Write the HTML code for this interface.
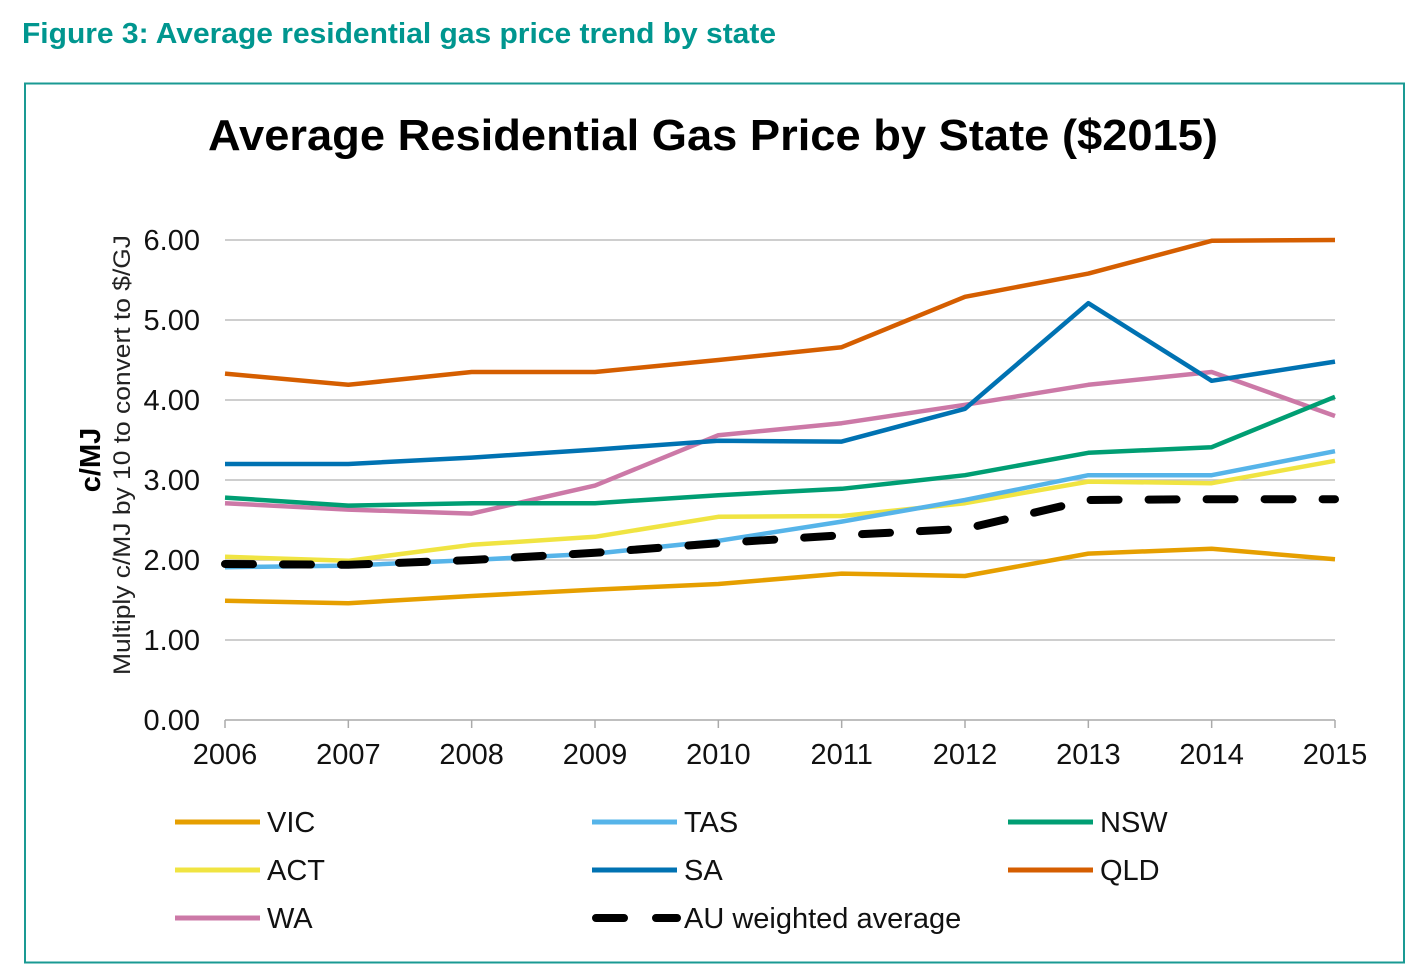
<!DOCTYPE html>
<html><head><meta charset="utf-8"><style>
body{margin:0;background:#fff;width:1416px;height:972px;overflow:hidden;font-family:"Liberation Sans",sans-serif}
</style></head><body>
<svg width="1416" height="972" xmlns="http://www.w3.org/2000/svg" font-family="Liberation Sans, sans-serif">
<text x="22" y="43" font-size="29" font-weight="bold" fill="#00968f" textLength="754" lengthAdjust="spacingAndGlyphs">Figure 3: Average residential gas price trend by state</text>
<rect x="25" y="83.5" width="1379" height="879" fill="none" stroke="#1a9a93" stroke-width="2"/>
<text x="208" y="150" font-size="44" font-weight="bold" fill="#000" textLength="1010" lengthAdjust="spacingAndGlyphs">Average Residential Gas Price by State ($2015)</text>
<text transform="translate(100,460) rotate(-90)" font-size="29" font-weight="bold" text-anchor="middle">c/MJ</text>
<text transform="translate(130,675) rotate(-90)" font-size="24" fill="#222" textLength="440" lengthAdjust="spacingAndGlyphs">Multiply c/MJ by 10 to convert to $/GJ</text>
<g id="grid"></g><g id="axes"></g><g id="series"></g><g id="legend"></g>
</svg>
<script>
const years=[2006,2007,2008,2009,2010,2011,2012,2013,2014,2015];
const yTicks=[0,1,2,3,4,5,6];
const VIC=[1.49,1.46,1.55,1.63,1.70,1.83,1.80,2.08,2.14,2.01];
const TAS=[1.91,1.93,2.00,2.08,2.24,2.48,2.75,3.06,3.06,3.36];
const NSW=[2.78,2.68,2.71,2.71,2.81,2.89,3.06,3.34,3.41,4.04];
const ACT=[2.04,1.99,2.19,2.29,2.54,2.55,2.71,2.98,2.96,3.24];
const SA=[3.20,3.20,3.28,3.38,3.49,3.48,3.89,5.21,4.24,4.48];
const QLD=[4.33,4.19,4.35,4.35,4.50,4.66,5.29,5.58,5.99,6.00];
const WA=[2.71,2.63,2.58,2.93,3.56,3.71,3.94,4.19,4.35,3.80];
const AU=[1.95,1.94,2.00,2.09,2.21,2.31,2.39,2.75,2.76,2.76];
const NS="http://www.w3.org/2000/svg";
const xS=i=>225+i*(1335-225)/(years.length-1);
const yS=v=>720-v*80;
function mk(t,a,p){const e=document.createElementNS(NS,t);for(const k in a)e.setAttribute(k,a[k]);p.appendChild(e);return e;}
const grid=document.getElementById('grid'),axes=document.getElementById('axes'),ser=document.getElementById('series'),leg=document.getElementById('legend');
yTicks.forEach(v=>{
 if(v>0){const l=mk('line',{x1:225,x2:1335,y1:yS(v),y2:yS(v),stroke:'#bdbdbd','stroke-width':1.5},grid);
 
 }
 const t=mk('text',{x:200,y:yS(v)+10,'font-size':29,'text-anchor':'end',fill:'#111'},axes);t.textContent=v.toFixed(2);
 
 
});
const ax=mk('line',{x1:225,x2:1335,y1:720,y2:720,stroke:'#aaa','stroke-width':1.5},axes);


years.forEach((y,i)=>{
 mk('line',{x1:xS(i),x2:xS(i),y1:720,y2:728,stroke:'#aaa','stroke-width':1.5},axes);
 const t=mk('text',{x:xS(i),y:764,'font-size':29,'text-anchor':'middle',fill:'#111'},axes);t.textContent=y;
 
 
});
const series=[["VIC",VIC,"#E69F00"],["TAS",TAS,"#56B4E9"],["NSW",NSW,"#009E73"],["ACT",ACT,"#F0E442"],["SA",SA,"#0072B2"],["QLD",QLD,"#D55E00"],["WA",WA,"#CC79A7"],["AU weighted average",AU,"#000"]];
const drawOrder=[0,3,1,6,2,4,5,7];
drawOrder.forEach(k=>{const [n,d,c]=series[k];
 const p=mk('polyline',{points:d.map((v,i)=>xS(i)+','+yS(v)).join(' '),fill:'none',stroke:c,'stroke-width':k==7?8:4.5,'stroke-linejoin':'round'},ser);
 if(k==7){p.setAttribute('stroke-dasharray','28 30');p.setAttribute('stroke-linecap','round');}
 
 
});
const cols=[175,592,1008];
series.forEach(([n,d,c],k)=>{
 const cx=cols[k%3],cy=822+Math.floor(k/3)*48;
 const g=mk('g',{},leg);
 
 
 const l=mk('line',{x1:cx,x2:cx+85,y1:cy,y2:cy,stroke:c,'stroke-width':k==7?8:5},g);
 if(k==7){l.setAttribute('stroke-dasharray','28 32');l.setAttribute('stroke-linecap','round');l.setAttribute('x1',cx+4);l.setAttribute('x2',cx+85);}
 const t=mk('text',{x:cx+92,y:cy+10,'font-size':29,fill:'#111'},g);t.textContent=n;
});
</script>
</body></html>
